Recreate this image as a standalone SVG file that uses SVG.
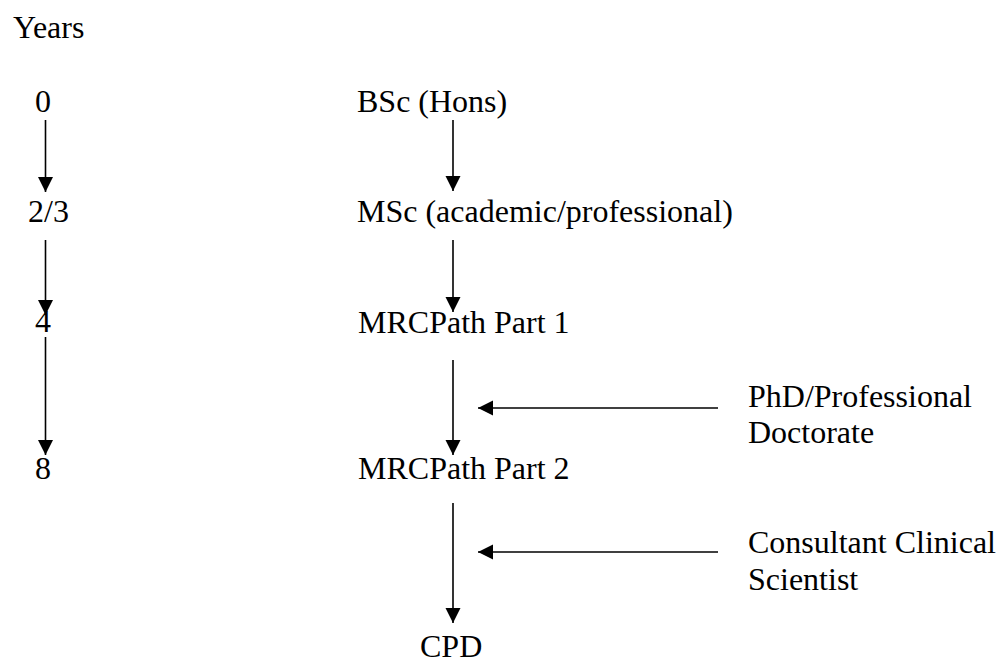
<svg xmlns="http://www.w3.org/2000/svg" width="998" height="664" viewBox="0 0 998 664">
<style>
text{font-family:"Liberation Serif","Times New Roman",serif;font-size:32px;fill:#000}
.ln{stroke:#000;stroke-width:1.6;fill:none}
</style>
<defs>
<marker id="ah" markerUnits="userSpaceOnUse" markerWidth="16" markerHeight="16" viewBox="0 0 16 16" refX="15" refY="8" orient="auto">
<path d="M0,0.5 L15,8 L0,15.5 Z" fill="#000"/>
</marker>
</defs>
<rect width="998" height="664" fill="#fff"/>
<g id="years-label"><text x="13" y="38">Years</text></g>
<g id="y0"><text x="35" y="112">0</text></g>
<g id="y23"><text x="28" y="222">2/3</text></g>
<g id="y4"><text x="35" y="332">4</text></g>
<g id="y8"><text x="35" y="479">8</text></g>
<g id="bsc"><text x="357" y="112">BSc (Hons)</text></g>
<g id="msc"><text x="357" y="222">MSc (academic/professional)</text></g>
<g id="mrcpath1"><text x="358" y="333">MRCPath Part 1</text></g>
<g id="mrcpath2"><text x="358" y="479">MRCPath Part 2</text></g>
<g id="cpd"><text x="420" y="657">CPD</text></g>
<g id="phd"><text x="748" y="407">PhD/Professional</text><text x="748" y="443">Doctorate</text></g>
<g id="consultant"><text x="748" y="553">Consultant Clinical</text><text x="748" y="590">Scientist</text></g>
<g id="connectors">
<line class="ln" x1="45.5" y1="120" x2="45.5" y2="192" marker-end="url(#ah)"/>
<line class="ln" x1="45.5" y1="240" x2="45.5" y2="315" marker-end="url(#ah)"/>
<line class="ln" x1="45.5" y1="337" x2="45.5" y2="455" marker-end="url(#ah)"/>
<line class="ln" x1="453" y1="120" x2="453" y2="191" marker-end="url(#ah)"/>
<line class="ln" x1="453" y1="240" x2="453" y2="312" marker-end="url(#ah)"/>
<line class="ln" x1="453" y1="360" x2="453" y2="455" marker-end="url(#ah)"/>
<line class="ln" x1="453" y1="503" x2="453" y2="623" marker-end="url(#ah)"/>
<line class="ln" x1="718" y1="408" x2="478" y2="408" marker-end="url(#ah)"/>
<line class="ln" x1="718" y1="552" x2="478" y2="552" marker-end="url(#ah)"/>
</g>
</svg>
